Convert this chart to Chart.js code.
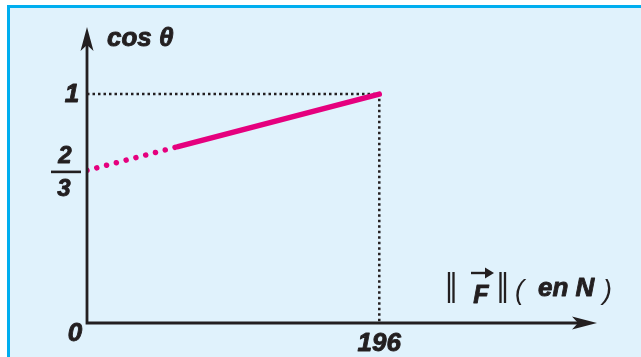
<!DOCTYPE html>
<html>
<head>
<meta charset="utf-8">
<script src="https://cdn.jsdelivr.net/npm/chart.js@4"></script>
<style>
  html, body { margin: 0; padding: 0; background: #ffffff; }
  canvas { display: block; }
</style>
</head>
<body>
<canvas id="forceChart" width="641" height="357"></canvas>
<script>
'use strict';

// force (N) and cos(theta)
const forceN = [0, 61, 196];
const cosTheta = [2 / 3, 0.7704, 1];

// dotted guide from the y axis at 1 to the x axis at 196
const guideX = [0, 196, 196];
const guideY = [1, 1, 0];

const xTicks = [196];
const xTickLabels = ['196'];
const yTicks = [1];
const yTickLabels = ['1'];

const FONT = '"Liberation Sans", Arial, sans-serif';
const INK = '#231f20';
const PINK = '#e5007e';

function toPoints(xs, ys) {
    return xs.map((x, i) => ({ x: x, y: ys[i] }));
}

// bold text drawn a little heavier, like the reference
function heavyText(c, txt, x, y) {
    c.fillText(txt, x, y);
    c.strokeText(txt, x, y);
}

const decorPlugin = {
    id: 'decor',
    beforeDraw(chart) {
        const c = chart.ctx;
        c.save();
        c.fillStyle = '#ffffff';
        c.fillRect(0, 0, chart.width, chart.height);
        c.fillStyle = '#e0f2fc';
        c.fillRect(8, 6, chart.width, chart.height);
        c.strokeStyle = '#00aeef';
        c.lineWidth = 3;
        c.strokeRect(8.5, 6.5, chart.width + 20, chart.height + 20);
        c.restore();
    },
    afterDatasetsDraw(chart) {
        const c = chart.ctx;
        const xs = chart.scales.x, ys = chart.scales.y;
        const ox = xs.getPixelForValue(0), oy = ys.getPixelForValue(0);
        const right = chart.chartArea.right, top = chart.chartArea.top;
        c.save();
        // axes
        c.strokeStyle = INK;
        c.fillStyle = INK;
        c.lineWidth = 2.8;
        c.lineCap = 'butt';
        c.beginPath();
        c.moveTo(ox, oy + 1.4);
        c.lineTo(ox, top + 15);
        c.moveTo(ox - 1.4, oy);
        c.lineTo(right - 15, oy);
        c.stroke();
        // arrow heads
        c.beginPath();
        c.moveTo(right, oy);
        c.lineTo(right - 25, oy - 6.5);
        c.lineTo(right - 19, oy);
        c.lineTo(right - 25, oy + 6.5);
        c.closePath();
        c.fill();
        c.beginPath();
        c.moveTo(ox, top);
        c.lineTo(ox - 6.5, top + 24);
        c.lineTo(ox, top + 18);
        c.lineTo(ox + 6.5, top + 24);
        c.closePath();
        c.fill();

        // tick labels
        c.lineWidth = 0.9;
        c.lineJoin = 'round';
        c.font = 'italic bold 26px ' + FONT;
        c.textAlign = 'center';
        c.textBaseline = 'alphabetic';
        heavyText(c, '0', ox - 12, oy + 18);
        xTicks.forEach((v, i) => {
            heavyText(c, xTickLabels[i], xs.getPixelForValue(v), oy + 28);
        });
        yTicks.forEach((v, i) => {
            heavyText(c, yTickLabels[i], ox - 15, ys.getPixelForValue(v) + 8);
        });
        // fraction 2/3
        const fy = ys.getPixelForValue(2 / 3);
        c.font = 'italic bold 24px ' + FONT;
        heavyText(c, '2', ox - 22, fy - 7);
        heavyText(c, '3', ox - 23, fy + 26);
        c.lineWidth = 2.6;
        c.beginPath();
        c.moveTo(ox - 36, fy + 1.5);
        c.lineTo(ox - 6, fy + 1.5);
        c.stroke();

        // axis titles
        c.lineWidth = 0.9;
        c.textAlign = 'left';
        c.font = 'italic bold 26px ' + FONT;
        heavyText(c, 'cos \u03b8', ox + 20, top + 19);

        // ||F|| ( en N )
        c.lineWidth = 2.3;
        c.beginPath();
        [449, 453.5, 500.5, 505].forEach(x => {
            c.moveTo(x, 272);
            c.lineTo(x, 303);
        });
        c.stroke();
        c.lineWidth = 0.9;
        c.textAlign = 'center';
        c.font = 'italic bold 25px ' + FONT;
        heavyText(c, 'F', 481, 303);
        // vector arrow over F
        c.lineWidth = 2.4;
        c.beginPath();
        c.moveTo(471, 273);
        c.lineTo(489, 273);
        c.stroke();
        c.beginPath();
        c.moveTo(494, 273);
        c.lineTo(485, 267.5);
        c.lineTo(485, 278.5);
        c.closePath();
        c.fill();
        c.textAlign = 'left';
        c.font = 'italic 27px ' + FONT;
        c.fillText('(', 515, 299);
        c.fillText(')', 603, 299);
        c.lineWidth = 0.9;
        c.font = 'italic bold 26px ' + FONT;
        heavyText(c, 'en N', 538, 296);
        c.restore();
    }
};

new Chart(document.getElementById('forceChart'), {
    type: 'scatter',
    data: {
        datasets: [
            {
                label: 'cos θ',
                data: toPoints(forceN, cosTheta),
                showLine: true,
                borderColor: PINK,
                borderWidth: 5.5,
                borderCapStyle: 'round',
                pointRadius: 0,
                segment: {
                    borderDash: ctx => ctx.p0DataIndex === 0 ? [0.01, 10.1] : undefined
                }
            },
            {
                label: 'repères',
                data: toPoints(guideX, guideY),
                showLine: true,
                borderColor: INK,
                borderWidth: 2.5,
                borderDash: [2.5, 3],
                pointRadius: 0
            }
        ]
    },
    options: {
        responsive: false,
        animation: false,
        devicePixelRatio: 1,
        layout: { padding: { left: 87, top: 27, right: 44, bottom: 34 } },
        plugins: {
            legend: { display: false },
            tooltip: { enabled: false }
        },
        scales: {
            x: { type: 'linear', min: 0, max: 342, display: false },
            y: { type: 'linear', min: 0, max: 1.293, display: false }
        }
    },
    plugins: [decorPlugin]
});
</script>
</body>
</html>
